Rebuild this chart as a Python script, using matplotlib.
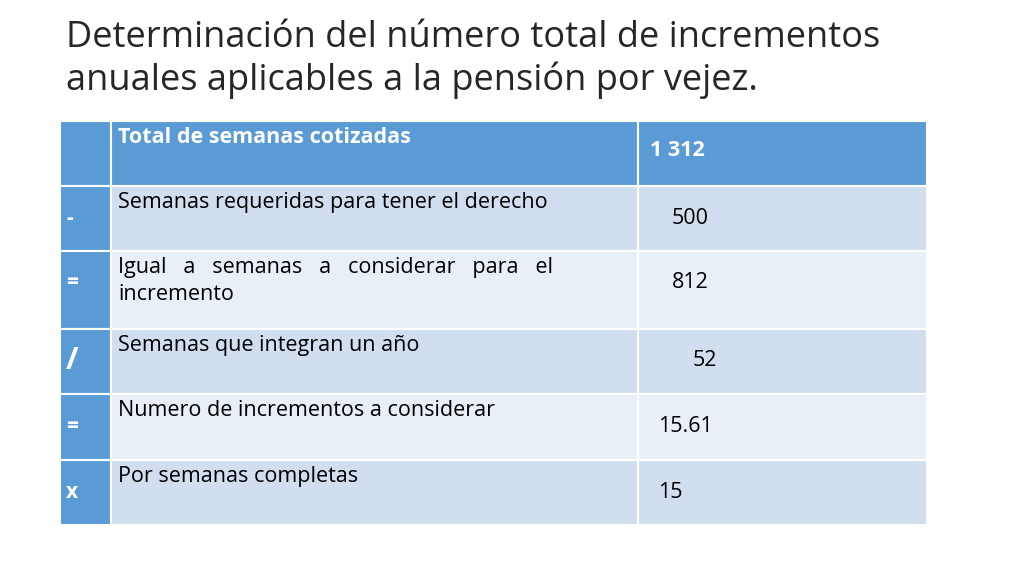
import matplotlib.pyplot as plt
from matplotlib.patches import Rectangle

HEADER_BLUE = "#5b9bd5"
DARK_ROW = "#d0deef"
LIGHT_ROW = "#e9eff7"

TITLE = ("Determinación del número total de incrementos\n"
         "anuales aplicables a la pensión por vejez.")

SYMBOLS = ["", "-", "=", "/", "=", "x"]
LABELS = [
    "Total de semanas cotizadas",
    "Semanas requeridas para tener el derecho",
    "Igual   a   semanas   a   considerar   para   el\nincremento",
    "Semanas que integran un año",
    "Numero de incrementos a considerar",
    "Por semanas completas",
]
VALUES = ["1 312", "500", "812", "52", "15.61", "15"]

# layout in pixels
COL_X = [60, 111, 638, 927]
ROW_Y = [121, 186, 251, 329, 394, 460, 525]
VALUE_DX = [12, 34, 34, 55, 20, 20]
VALUE_DY = [30, 32, 32, 32, 32, 32]


def main():
    fig = plt.figure(figsize=(10.24, 5.76), dpi=100)
    ax = fig.add_axes([0, 0, 1, 1])
    ax.set_xlim(0, 1024)
    ax.set_ylim(576, 0)
    ax.axis("off")

    ax.text(66, 20, TITLE, fontsize=26, family="Open Sans", color="#262626",
            va="top", ha="left", linespacing=1.2)

    for i in range(len(LABELS)):
        y0, y1 = ROW_Y[i], ROW_Y[i + 1]
        h = y1 - y0
        if i == 0:
            fills = [HEADER_BLUE] * 3
        else:
            body = DARK_ROW if i % 2 == 1 else LIGHT_ROW
            fills = [HEADER_BLUE, body, body]
        for j in range(3):
            ax.add_patch(Rectangle((COL_X[j], y0), COL_X[j + 1] - COL_X[j], h,
                                   facecolor=fills[j], edgecolor="white", lw=1.5))

        bold = i == 0
        txt_col = "white" if i == 0 else "black"
        sym_size = 22 if SYMBOLS[i] == "/" else 15
        ax.text(COL_X[0] + 6, y0 + 32, SYMBOLS[i], fontsize=sym_size,
                fontweight="bold", color="white", va="center", family="Open Sans")
        ax.text(COL_X[1] + 7, y0 + 6, LABELS[i], fontsize=15.5,
                fontweight="bold" if bold else "normal", color=txt_col,
                va="top", family="Open Sans", linespacing=1.35)
        ax.text(COL_X[2] + VALUE_DX[i], y0 + VALUE_DY[i], VALUES[i], fontsize=15.5,
                fontweight="bold" if bold else "normal", color=txt_col,
                va="center", family="Open Sans")

    fig.savefig("out.png", dpi=100, facecolor="white")


if __name__ == "__main__":
    main()
